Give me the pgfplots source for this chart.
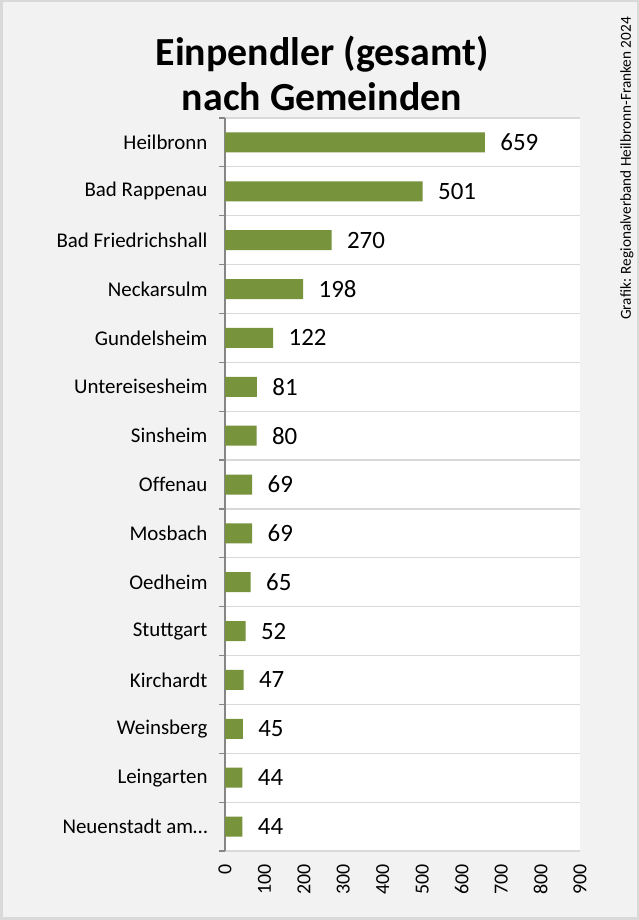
\documentclass[border=0pt]{standalone}
\usepackage{pgfplots}
\pgfplotsset{compat=1.18}
\usepackage{fontspec}
\setmainfont{Carlito}
\definecolor{bg}{HTML}{F2F2F2}
\definecolor{frame}{HTML}{D9D9D9}
\definecolor{grid}{HTML}{D9D9D9}
\definecolor{axisc}{HTML}{868686}
\definecolor{bar}{HTML}{77933C}
\begin{document}
\begin{tikzpicture}[x=1bp,y=1bp]
\fill[bg] (0,0) rectangle (639,920);
\draw[frame, line width=2bp] (1.5,1.5) rectangle (637.5,918.5);
\node[anchor=base, font=\fontsize{40}{44}\selectfont\bfseries] at (322,854) {Einpendler (gesamt)};
\node[anchor=base, font=\fontsize{40}{44}\selectfont\bfseries] at (322,809) {nach Gemeinden};
\node[rotate=90, anchor=east, inner sep=0pt, font=\fontsize{15.3}{16}\selectfont] at (627,903) {Grafik: Regionalverband Heilbronn-Franken 2024};
\begin{axis}[
  at={(225bp,69bp)}, anchor=south west,
  scale only axis, width=355bp, height=733bp,
  xbar, bar width=20bp,
  xmin=0, xmax=900, ymin=-0.5, ymax=14.5,
  y dir=reverse,
  /pgf/number format/assume math mode=true,
  axis background/.style={fill=white},
  axis x line*=bottom, axis y line*=left,
  x axis line style={draw=none},
  y axis line style={draw=axisc, line width=1.2bp},
  xtick={0,100,...,900},
  ytick={0,...,14},
  yticklabels={Heilbronn,Bad Rappenau,Bad Friedrichshall,Neckarsulm,Gundelsheim,Untereisesheim,Sinsheim,Of\kern0ptfenau,Mosbach,Oedheim,Stuttgart,Kirchardt,Weinsberg,Leingarten,Neuenstadt am…},
  minor ytick={-0.5,0.5,...,14.5},
  yminorgrids,
  minor grid style={draw=grid, line width=1.2bp},
  major tick length=0pt,
  minor tick length=6bp,
  tick align=outside,
  minor tick style={draw=axisc, line width=1.2bp},
  xticklabel style={rotate=90, anchor=east, font=\fontsize{20}{21}\selectfont, xshift=-10bp},
  yticklabel style={font=\fontsize{21}{22}\selectfont, xshift=-14bp},
  nodes near coords,
  nodes near coords style={font=\fontsize{25}{25}\selectfont, anchor=west, xshift=12bp, text=black},
  clip=false,
]
\addplot[fill=bar, draw=none] coordinates {
(659,0) (501,1) (270,2) (198,3) (122,4) (81,5) (80,6) (69,7) (69,8) (65,9) (52,10) (47,11) (45,12) (44,13) (44,14)};
\end{axis}
\end{tikzpicture}
\end{document}
